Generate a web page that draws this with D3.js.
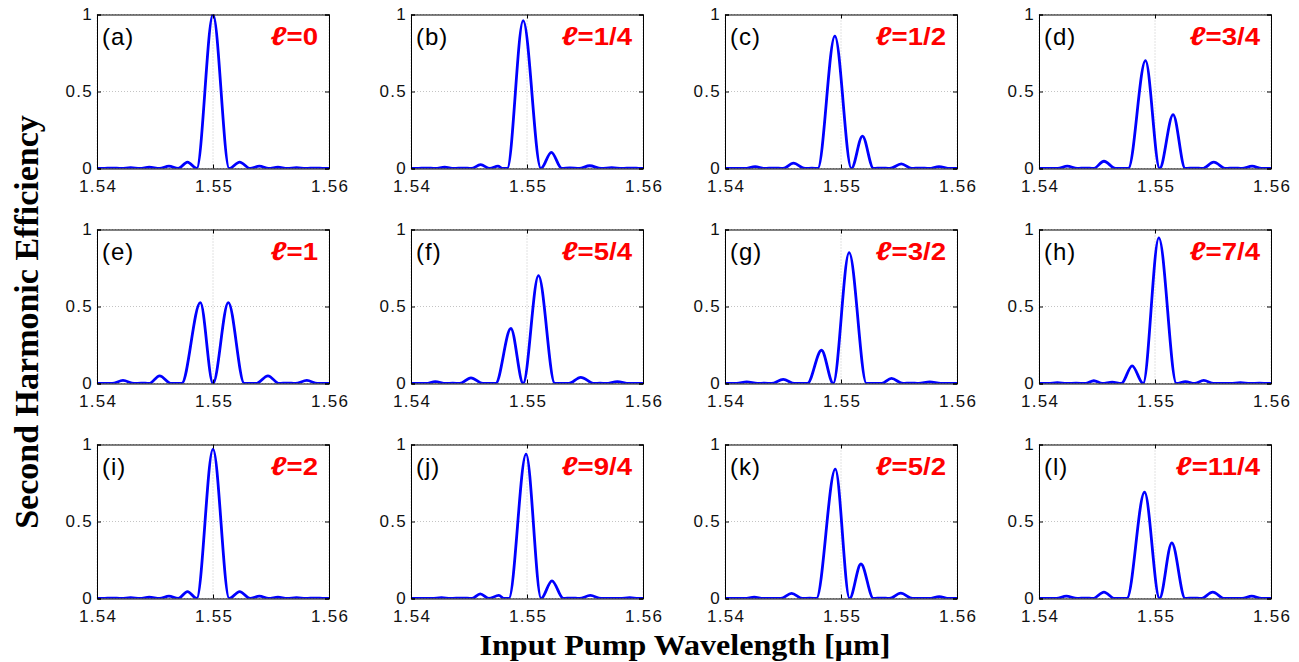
<!DOCTYPE html>
<html>
<head>
<meta charset="utf-8">
<script src="https://cdn.jsdelivr.net/npm/d3@7"></script>
<style>
  body { margin: 0; background: #fff; }
  svg { display: block; }
</style>
</head>
<body>
<svg id="chart" width="1299" height="662"></svg>
<script>
// Axis ticks shared by all panels
const xTicks = [1.54, 1.55, 1.56];
const yTicks = [0, 0.5, 1];
const yTickLabels = ["0", "0.5", "1"];

// Panel tags and chirp parameter labels
const panelTags = ["(a)", "(b)", "(c)", "(d)", "(e)", "(f)", "(g)", "(h)", "(i)", "(j)", "(k)", "(l)"];
const ellValues = ["0", "1/4", "1/2", "3/4", "1", "5/4", "3/2", "7/4", "2", "9/4", "5/2", "11/4"];

// SH efficiency spectra: [pump wavelength (µm), normalized efficiency] at lobe peaks and nulls
const panelA = [[1.5400,0],[1.5405,0],[1.5413,0.003],[1.5421,0],[1.5429,0.005],[1.5437,0],[1.5445,0.008],[1.5454,0],[1.5462,0.015],[1.5470,0],[1.5478,0.042],[1.5486,0],[1.5500,1.0],[1.5514,0],[1.5523,0.042],[1.5532,0],[1.5540,0.015],[1.5548,0],[1.5556,0.008],[1.5564,0],[1.5572,0.005],[1.5580,0],[1.5588,0.003],[1.5596,0],[1.5600,0]];
const panelB = [[1.5400,0],[1.5405,0],[1.5413,0.003],[1.5421,0],[1.5429,0.008],[1.5437,0],[1.5445,0.003],[1.5452,0],[1.5460,0.025],[1.5468,0],[1.5475,0.015],[1.5479,0],[1.5483,0],[1.54967,0.96],[1.5512,0],[1.5521,0.105],[1.5530,0],[1.5537,0.004],[1.5545,0],[1.5554,0.018],[1.5564,0],[1.5573,0.005],[1.5582,0],[1.5590,0.003],[1.5598,0],[1.5600,0]];
const panelC = [[1.5400,0],[1.5409,0],[1.5417,0],[1.5426,0.012],[1.5434,0],[1.5442,0.003],[1.5450,0],[1.5459,0.035],[1.5469,0],[1.5475,0.003],[1.5480,0],[1.54947,0.86],[1.5509,0],[1.55185,0.21],[1.5528,0],[1.5535,0.003],[1.5542,0],[1.5552,0.03],[1.5561,0],[1.5568,0.003],[1.5576,0],[1.55845,0.012],[1.5594,0],[1.5600,0]];
const panelD = [[1.5400,0],[1.5408,0],[1.5416,0],[1.54244,0.015],[1.5433,0],[1.5440,0.003],[1.5447,0],[1.5456,0.047],[1.5466,0],[1.5477,0],[1.54918,0.70],[1.5504,0],[1.55156,0.35],[1.5526,0],[1.5534,0.003],[1.5541,0],[1.55506,0.041],[1.5561,0],[1.5568,0.003],[1.5575,0],[1.55837,0.015],[1.5592,0],[1.5600,0]];
const panelE = [[1.5400,0],[1.5405,0],[1.5413,0],[1.54224,0.02],[1.5432,0],[1.5438,0.003],[1.5445,0],[1.5454,0.05],[1.5464,0],[1.5473,0],[1.54891,0.525],[1.5500,0],[1.55132,0.525],[1.5527,0],[1.5537,0],[1.55474,0.05],[1.5557,0],[1.5564,0.003],[1.5571,0],[1.55809,0.02],[1.5590,0],[1.5600,0]];
const panelF = [[1.5400,0],[1.5413,0],[1.54209,0.012],[1.5430,0],[1.5436,0.003],[1.5442,0],[1.54517,0.037],[1.5462,0],[1.5473,0],[1.54861,0.357],[1.54967,0],[1.55099,0.70],[1.5524,0],[1.5536,0],[1.55463,0.04],[1.5558,0],[1.5563,0.003],[1.5568,0],[1.55779,0.012],[1.5588,0],[1.5600,0]];
const panelG = [[1.5400,0],[1.5410,0],[1.54187,0.01],[1.5428,0],[1.5434,0.003],[1.5440,0],[1.54502,0.027],[1.5460,0],[1.5471,0],[1.54832,0.216],[1.54933,0],[1.5507,0.85],[1.5522,0],[1.5535,0],[1.55435,0.033],[1.55535,0],[1.5560,0.003],[1.5567,0],[1.55765,0.01],[1.5586,0],[1.5600,0]];
const panelH = [[1.5400,0],[1.5408,0],[1.54158,0.006],[1.5424,0],[1.5432,0.002],[1.5440,0],[1.54473,0.018],[1.54545,0],[1.54631,0.008],[1.5471,0],[1.54803,0.115],[1.54898,0],[1.55033,0.946],[1.55185,0],[1.55263,0.012],[1.5534,0],[1.5542,0.02],[1.55506,0],[1.5565,0],[1.55736,0.005],[1.5582,0],[1.5590,0.002],[1.5598,0],[1.5600,0]];
const panelI = [[1.5400,0],[1.5405,0],[1.5413,0.003],[1.5421,0],[1.5429,0.005],[1.5437,0],[1.5445,0.008],[1.5454,0],[1.5462,0.015],[1.5470,0],[1.5478,0.045],[1.5486,0],[1.5500,0.97],[1.5514,0],[1.5523,0.045],[1.5532,0],[1.5540,0.015],[1.5548,0],[1.5556,0.008],[1.5564,0],[1.5572,0.005],[1.5580,0],[1.5588,0.003],[1.5596,0],[1.5600,0]];
const panelJ = [[1.5400,0],[1.5418,0],[1.54263,0.005],[1.5434,0],[1.5444,0.003],[1.54526,0],[1.54597,0.03],[1.54671,0],[1.54757,0.02],[1.54804,0],[1.54844,0],[1.54992,0.937],[1.55122,0],[1.55215,0.115],[1.55314,0],[1.5538,0.003],[1.55453,0],[1.55546,0.02],[1.55639,0],[1.5580,0],[1.55886,0.005],[1.5596,0],[1.5600,0]];
const panelK = [[1.5400,0],[1.5417,0],[1.54252,0.008],[1.5433,0],[1.54482,0],[1.54574,0.033],[1.54666,0],[1.5473,0.003],[1.54788,0],[1.54951,0.84],[1.55074,0],[1.55172,0.224],[1.5528,0],[1.5535,0.003],[1.55417,0],[1.55515,0.035],[1.55617,0],[1.5576,0],[1.55847,0.012],[1.5593,0],[1.5600,0]];
const panelL = [[1.5400,0],[1.5408,0],[1.5415,0],[1.54235,0.015],[1.5433,0],[1.5440,0.003],[1.54465,0],[1.5456,0.042],[1.54651,0],[1.54758,0],[1.5491,0.69],[1.55039,0],[1.55145,0.361],[1.5526,0],[1.5533,0.003],[1.55397,0],[1.55498,0.041],[1.55598,0],[1.5575,0],[1.55834,0.015],[1.5592,0],[1.5600,0]];

const spectra = [panelA, panelB, panelC, panelD, panelE, panelF, panelG, panelH, panelI, panelJ, panelK, panelL];

// Grid layout of the 3 x 4 small multiples
const nCols = 4;
const boxLeft = 97, boxTop = 14.5, colStep = 314, rowStep = 215;
const boxW = 232, boxH = 154;

const svg = d3.select("#chart");
const x = d3.scaleLinear().domain([1.54, 1.56]).range([0, boxW]);
const y = d3.scaleLinear().domain([0, 1]).range([boxH, 0]);

const line = d3.line()
  .x(d => x(d[0]))
  .y(d => y(d[1]))
  .curve(d3.curveMonotoneX);

const tickFont = "'Liberation Sans', Arial, Helvetica, sans-serif";

spectra.forEach((data, i) => {
  const col = i % nCols, row = Math.floor(i / nCols);
  const g = svg.append("g")
    .attr("transform", `translate(${boxLeft + col * colStep},${boxTop + row * rowStep})`);

  // dotted grid
  g.append("g").selectAll("line.gx").data(xTicks).join("line")
    .attr("x1", d => x(d)).attr("x2", d => x(d))
    .attr("y1", 0).attr("y2", boxH)
    .attr("stroke", "#c4c4c4").attr("stroke-width", 1)
    .attr("stroke-dasharray", "1,2");
  g.append("g").selectAll("line.gy").data(yTicks).join("line")
    .attr("x1", 0).attr("x2", boxW)
    .attr("y1", d => y(d)).attr("y2", d => y(d))
    .attr("stroke", "#c4c4c4").attr("stroke-width", 1)
    .attr("stroke-dasharray", "1,2");

  // spectrum curve, clipped to the axes box
  const clipId = "clip" + i;
  g.append("clipPath").attr("id", clipId)
    .append("rect").attr("width", boxW).attr("height", boxH);
  g.append("path")
    .datum(data)
    .attr("clip-path", `url(#${clipId})`)
    .attr("fill", "none")
    .attr("stroke", "#0000ff")
    .attr("stroke-width", 2.8)
    .attr("stroke-linejoin", "round")
    .attr("d", line);

  // axes with inward ticks on all four sides
  const inner = -4;
  const axB = g.append("g").attr("transform", `translate(0,${boxH})`)
    .call(d3.axisBottom(x).tickValues(xTicks).tickSize(inner).tickPadding(9)
      .tickFormat(d3.format(".2f")));
  const axT = g.append("g")
    .call(d3.axisTop(x).tickValues(xTicks).tickSize(inner).tickFormat(""));
  const axL = g.append("g")
    .call(d3.axisLeft(y).tickValues(yTicks).tickSize(inner).tickPadding(4)
      .tickFormat((d, k) => yTickLabels[k]));
  const axR = g.append("g").attr("transform", `translate(${boxW},0)`)
    .call(d3.axisRight(y).tickValues(yTicks).tickSize(inner).tickFormat(""));
  [axB, axT, axL, axR].forEach(a => {
    a.selectAll(".domain").attr("stroke", "#000").attr("stroke-width", 1);
    a.selectAll(".tick line").attr("stroke", "#000");
    a.selectAll(".tick text")
      .attr("fill", "#111")
      .style("font-family", tickFont)
      .style("font-size", "17px")
      .style("letter-spacing", "1.3px");
  });
  axB.selectAll(".tick text").attr("dy", "0.85em").attr("dx", "0.65px");

  // panel tag
  g.append("text")
    .attr("x", 5).attr("y", 30.5)
    .style("font-family", tickFont)
    .style("font-size", "24px")
    .style("letter-spacing", "1px")
    .attr("fill", "#000")
    .text(panelTags[i]);

  // chirp parameter label
  const lab = g.append("text")
    .attr("transform", `translate(${boxW - 11},30.5) scale(1.2,1)`)
    .attr("text-anchor", "end")
    .style("font-family", tickFont)
    .style("font-size", "23px")
    .style("font-weight", "bold")
    .attr("fill", "#ff0000");
  lab.append("tspan").style("font-style", "italic").style("font-size", "26px").text("\u2113");
  lab.append("tspan").text("=" + ellValues[i]);
});

// shared axis titles
const titleFont = "'Liberation Serif', 'Times New Roman', serif";
svg.append("text")
  .attr("transform", "translate(38,322) rotate(-90)")
  .attr("text-anchor", "middle")
  .style("font-family", titleFont)
  .style("font-size", "34px")
  .style("font-weight", "bold")
  .text("Second Harmonic Efficiency");
svg.append("text")
  .attr("transform", "translate(685,655) scale(1.07,1)")
  .attr("text-anchor", "middle")
  .style("font-family", titleFont)
  .style("font-size", "30px")
  .style("font-weight", "bold")
  .text("Input Pump Wavelength [\u00b5m]");
</script>
</body>
</html>
